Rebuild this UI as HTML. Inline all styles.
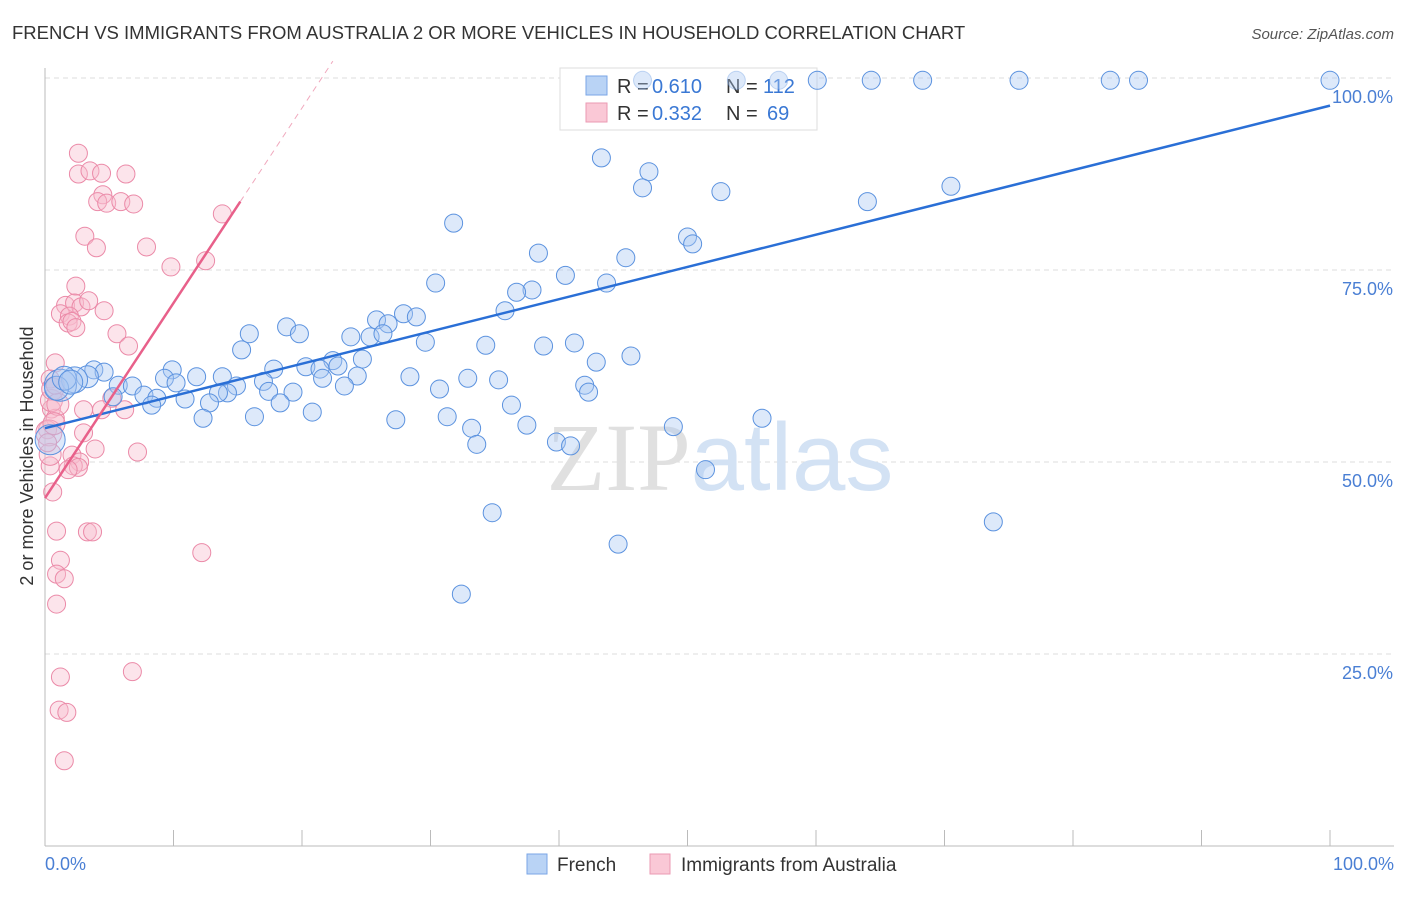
<!DOCTYPE html>
<html><head><meta charset="utf-8"><style>
body{margin:0;background:#fff;font-family:"Liberation Sans",sans-serif}
</style></head><body>
<svg width="1406" height="892" viewBox="0 0 1406 892" xmlns="http://www.w3.org/2000/svg">
<text x="12" y="39" font-size="18.5" fill="#333">FRENCH VS IMMIGRANTS FROM AUSTRALIA 2 OR MORE VEHICLES IN HOUSEHOLD CORRELATION CHART</text>
<text x="1394" y="39" font-size="15" fill="#555" text-anchor="end" font-style="italic">Source: ZipAtlas.com</text>
<g id="grid"></g>
<line x1="45" y1="68" x2="45" y2="846" stroke="#bbb"/>
<line x1="45" y1="846" x2="1394" y2="846" stroke="#bbb"/>
<g id="xticks"></g>
<text x="720" y="490" font-size="96" text-anchor="middle"><tspan fill="#e0e0e0" font-family="Liberation Serif,serif">ZIP</tspan><tspan fill="#d3e2f4">atlas</tspan></text>
<g>
<rect x="560" y="68" width="257" height="62" fill="#fff" stroke="#ddd"/>
<rect x="586" y="76" width="21" height="19" fill="#b9d3f5" stroke="#7aa6e6"/>
<rect x="586" y="103" width="21" height="19" fill="#fac8d6" stroke="#eb9ab3"/>
<text x="617" y="93" font-size="20" fill="#333">R =</text>
<text x="652" y="93" font-size="20" fill="#3a78d4">0.610</text>
<text x="726" y="93" font-size="20" fill="#333">N =</text>
<text x="763" y="93" font-size="20" fill="#3a78d4">112</text>
<text x="617" y="120" font-size="20" fill="#333">R =</text>
<text x="652" y="120" font-size="20" fill="#3a78d4">0.332</text>
<text x="726" y="120" font-size="20" fill="#333">N =</text>
<text x="767" y="120" font-size="20" fill="#3a78d4">69</text>
</g>
<g id="pts"></g>
<g id="lines"></g>
<g id="ylabels"></g>
<text x="45" y="870" font-size="18" fill="#4a7fd4" text-anchor="start">0.0%</text>
<text x="1394" y="870" font-size="18" fill="#4a7fd4" text-anchor="end">100.0%</text>
<text transform="translate(33,456) rotate(-90)" font-size="18" fill="#333" text-anchor="middle">2 or more Vehicles in Household</text>
<g>
<rect x="527" y="854" width="20" height="20" fill="#b9d3f5" stroke="#7aa6e6"/>
<text x="557" y="871" font-size="19" fill="#333">French</text>
<rect x="650" y="854" width="20" height="20" fill="#fac8d6" stroke="#eb9ab3"/>
<text x="681" y="871" font-size="19" fill="#333">Immigrants from Australia</text>
</g>
</svg>
<script>
const yTicks=[25,50,75,100];
const yTickLabels=["25.0%","50.0%","75.0%","100.0%"];
const xTicks=[0,10,20,30,40,50,60,70,80,90,100];
const frenchX=[46.5,53.8,57.1,60.1,64.3,68.3,75.8,82.9,85.1,100,43.3,47.0,46.5,52.6,70.5,64.0,31.8,50.0,50.4,38.4,45.2,40.5,43.7,30.4,37.9,36.7,35.8,27.9,28.9,25.8,26.7,18.8,15.9,19.8,23.8,25.3,26.3,29.6,34.3,38.8,41.2,15.3,45.6,42.9,24.7,22.4,20.3,21.4,22.8,17.8,9.9,3.8,4.6,3.3,2.3,1.2,24.3,21.6,28.4,32.9,35.3,13.8,11.8,9.3,17.0,14.9,10.2,5.7,6.8,42.0,42.3,30.7,23.3,19.3,17.4,14.2,13.5,10.9,7.7,5.3,8.7,8.3,12.8,18.3,36.3,20.8,16.3,12.3,27.3,31.3,55.8,37.5,33.2,48.9,39.8,40.9,33.6,51.4,34.8,73.8,44.6,32.4,0.4,0.9,1.5,2.0];
const frenchY=[99.7,99.7,99.7,99.7,99.7,99.7,99.7,99.7,99.7,99.7,89.6,87.8,85.7,85.2,85.9,83.9,81.1,79.3,78.4,77.2,76.6,74.3,73.3,73.3,72.4,72.1,69.7,69.3,68.9,68.5,68.0,67.6,66.7,66.7,66.3,66.3,66.7,65.6,65.2,65.1,65.5,64.6,63.8,63.0,63.4,63.2,62.4,62.1,62.5,62.1,62.0,62.0,61.7,61.1,60.7,60.0,61.2,60.9,61.1,60.9,60.7,61.1,61.1,60.9,60.5,59.9,60.3,60.0,59.9,60.0,59.1,59.5,59.9,59.1,59.2,59.0,59.0,58.2,58.7,58.5,58.3,57.4,57.7,57.7,57.4,56.5,55.9,55.7,55.5,55.9,55.7,54.8,54.4,54.6,52.6,52.1,52.3,49.0,43.4,42.2,39.3,32.8,52.9,59.6,60.9,60.4];
const frenchSize=[9,9,9,9,9,9,9,9,9,9,9,9,9,9,9,9,9,9,9,9,9,9,9,9,9,9,9,9,9,9,9,9,9,9,9,9,9,9,9,9,9,9,9,9,9,9,9,9,9,9,9,9,9,11,13,16,9,9,9,9,9,9,9,9,9,9,9,9,9,9,9,9,9,9,9,9,9,9,9,9,9,9,9,9,9,9,9,9,9,9,9,9,9,9,9,9,9,9,9,9,9,9,15,12,12,12];
const ausX=[2.6,2.6,3.5,4.4,6.3,4.5,4.1,4.8,5.9,6.9,13.8,3.1,4.0,7.9,9.8,12.5,2.4,1.6,2.3,2.8,1.2,1.9,1.8,2.1,4.6,5.6,6.5,0.8,0.4,5.2,4.4,6.2,3.0,0.5,0.8,0.2,3.0,3.9,7.2,2.1,2.7,2.2,2.6,0.4,0.6,0.9,3.3,3.7,12.2,1.2,0.9,1.5,0.9,6.8,1.2,1.1,1.7,1.5,0.3,0.5,0.6,1.0,0.7,0.4,1.8,2.4,3.4,0.2,0.8];
const ausY=[90.2,87.5,87.9,87.6,87.5,84.8,83.9,83.7,83.9,83.6,82.3,79.4,77.9,78.0,75.4,76.2,72.9,70.4,70.7,70.2,69.3,69.0,68.1,68.3,69.7,66.7,65.1,62.9,60.8,58.3,56.8,56.8,56.8,56.9,55.7,54.2,53.8,51.7,51.3,50.9,50.0,49.5,49.3,49.5,46.1,41.0,40.9,40.9,38.2,37.2,35.4,34.8,31.5,22.7,22.0,17.7,17.4,11.1,53.8,58.0,59.5,57.5,55.0,51.0,49.0,67.5,71.0,52.5,60.0];
const ausSize=[9,9,9,9,9,9,9,9,9,9,9,9,9,9,9,9,9,9,9,9,9,9,9,9,9,9,9,9,9,9,9,9,9,9,9,9,9,9,9,9,9,9,9,9,9,9,9,9,9,9,9,9,9,9,9,9,9,9,13,11,11,11,11,11,9,9,9,9,9];
const frenchLine=[54.4,96.4];
const ausLine=[45.3,2.54];
const NS='http://www.w3.org/2000/svg';
const X=v=>45+v*12.85, Y=v=>846-v*7.68;
function mk(t,a,p){const e=document.createElementNS(NS,t);for(const k in a)e.setAttribute(k,a[k]);document.getElementById(p).appendChild(e);return e;}
yTicks.forEach((t,i)=>{
 const l=mk('line',{x1:45,x2:1394,y1:Y(t),y2:Y(t),stroke:'#ddd','stroke-dasharray':'5,4'},'grid');
 
 
 const tx=mk('text',{x:1393,y:Y(t)+25,'font-size':18,fill:'#4a7fd4','text-anchor':'end'},'ylabels');
 tx.textContent=yTickLabels[i];
 
 
});
xTicks.forEach(t=>{
 const l=mk('line',{x1:X(t),x2:X(t),y1:846,y2:830,stroke:'#bbb'},'xticks');
 
 
});
ausX.forEach((x,i)=>{
 const c=mk('circle',{cx:X(x),cy:Y(ausY[i]),r:ausSize[i],fill:'#f8bccd','fill-opacity':0.4,stroke:'#eb8aa8','stroke-width':1},'pts');
 
 
});
frenchX.forEach((x,i)=>{
 const c=mk('circle',{cx:X(x),cy:Y(frenchY[i]),r:frenchSize[i],fill:'#a9c8f2','fill-opacity':0.4,stroke:'#5b92df','stroke-width':1,'stroke-opacity':(frenchY[i]>99&&x>45&&x<60)?0.35:1},'pts');
 
 
});
let l1=mk('line',{x1:X(0),y1:Y(frenchLine[0]),x2:X(100),y2:Y(frenchLine[1]),stroke:'#2a6fd6','stroke-width':2.5},'lines');


let l2=mk('line',{x1:X(0),y1:Y(ausLine[0]),x2:X(15.2),y2:Y(ausLine[0]+ausLine[1]*15.2),stroke:'#e8608a','stroke-width':2.5},'lines');


let l3=mk('line',{x1:X(15.2),y1:Y(ausLine[0]+ausLine[1]*15.2),x2:X(22.4),y2:Y(ausLine[0]+ausLine[1]*22.4),stroke:'#f0a8bd','stroke-width':1,'stroke-dasharray':'6,5'},'lines');


</script>
</body></html>
